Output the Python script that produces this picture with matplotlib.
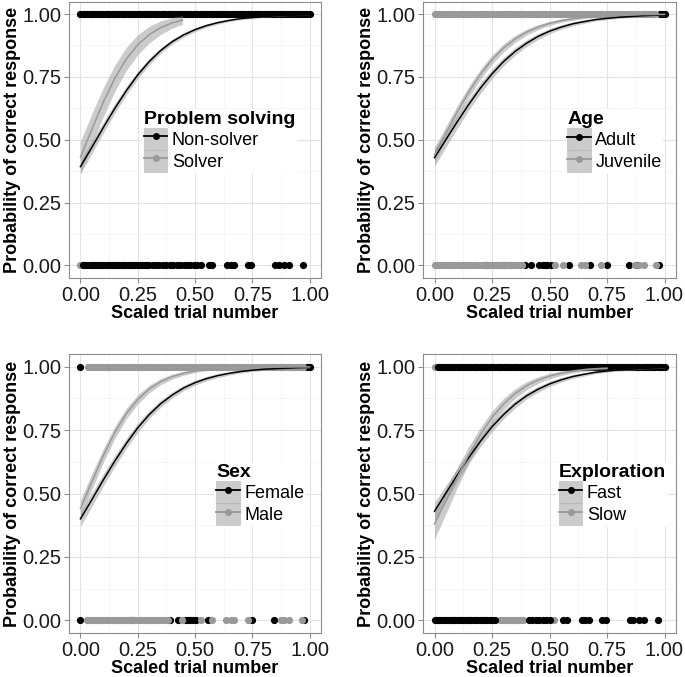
import matplotlib.pyplot as plt
from matplotlib.lines import Line2D
from matplotlib.patches import Patch
from matplotlib.legend_handler import HandlerTuple

plt.rcParams['font.family'] = ['Liberation Sans', 'DejaVu Sans']

x_fit = [0.00, 0.05, 0.10, 0.15, 0.20, 0.25, 0.30, 0.35, 0.40, 0.45, 0.50,
         0.55, 0.60, 0.65, 0.70, 0.75, 0.80, 0.85, 0.90, 0.95, 1.00]
x_solver = [0.00, 0.05, 0.10, 0.15, 0.20, 0.25, 0.30, 0.35, 0.40, 0.445]
x_slow = [0.00, 0.05, 0.10, 0.15, 0.20, 0.25, 0.30, 0.35, 0.40, 0.45, 0.50,
          0.55, 0.60, 0.65, 0.70, 0.75]

# trials with a correct answer, spread over the whole scaled range
all_trials = [0.00, 0.01, 0.02, 0.03, 0.04, 0.05, 0.06, 0.07, 0.08, 0.09,
              0.10, 0.11, 0.12, 0.13, 0.14, 0.15, 0.16, 0.17, 0.18, 0.19,
              0.20, 0.21, 0.22, 0.23, 0.24, 0.25, 0.26, 0.27, 0.28, 0.29,
              0.30, 0.31, 0.32, 0.33, 0.34, 0.35, 0.36, 0.37, 0.38, 0.39,
              0.40, 0.41, 0.42, 0.43, 0.44, 0.45, 0.46, 0.47, 0.48, 0.49,
              0.50, 0.51, 0.52, 0.53, 0.54, 0.55, 0.56, 0.57, 0.58, 0.59,
              0.60, 0.61, 0.62, 0.63, 0.64, 0.65, 0.66, 0.67, 0.68, 0.69,
              0.70, 0.71, 0.72, 0.73, 0.74, 0.75, 0.76, 0.77, 0.78, 0.79,
              0.80, 0.81, 0.82, 0.83, 0.84, 0.85, 0.86, 0.87, 0.88, 0.89,
              0.90, 0.91, 0.92, 0.93, 0.94, 0.95, 0.96, 0.97, 0.98, 0.99, 1.00]

# ---- Problem solving ----
nonsolver_fit = [0.393, 0.470, 0.549, 0.625, 0.695, 0.758, 0.811, 0.855, 0.890, 0.917, 0.938,
                 0.954, 0.966, 0.975, 0.982, 0.986, 0.990, 0.993, 0.995, 0.996, 0.997]
nonsolver_ci = [0.028, 0.025, 0.022, 0.019, 0.017, 0.015, 0.013, 0.011, 0.010, 0.009, 0.008,
                0.007, 0.006, 0.005, 0.004, 0.004, 0.003, 0.003, 0.002, 0.002, 0.002]
solver_fit = [0.430, 0.542, 0.650, 0.745, 0.821, 0.878, 0.918, 0.946, 0.965, 0.976]
solver_ci = [0.065, 0.062, 0.058, 0.052, 0.046, 0.040, 0.033, 0.027, 0.021, 0.017]

nonsolver_top = all_trials
solver_top = [0.00, 0.02, 0.04, 0.06, 0.08, 0.10, 0.12, 0.14, 0.16, 0.18, 0.20, 0.22, 0.24,
              0.26, 0.28, 0.30, 0.32, 0.34, 0.36, 0.38, 0.40, 0.42, 0.44]
nonsolver_bottom = [0.01, 0.02, 0.03, 0.04, 0.05, 0.06, 0.07, 0.08, 0.09, 0.10,
                    0.11, 0.12, 0.13, 0.14, 0.15, 0.16, 0.17, 0.18, 0.19, 0.20,
                    0.21, 0.22, 0.23, 0.24, 0.25, 0.26, 0.27, 0.28, 0.29, 0.30,
                    0.315, 0.33, 0.345, 0.36, 0.375, 0.39, 0.405, 0.42, 0.435, 0.45,
                    0.465, 0.48, 0.495, 0.51, 0.525, 0.56, 0.575, 0.64, 0.655, 0.67,
                    0.73, 0.745, 0.85, 0.865, 0.89, 0.91, 0.97]
solver_bottom = [0.00]

# ---- Age ----
adult_fit = [0.429, 0.501, 0.573, 0.642, 0.706, 0.762, 0.811, 0.851, 0.884, 0.911, 0.932,
             0.948, 0.961, 0.970, 0.978, 0.983, 0.987, 0.990, 0.993, 0.995, 0.996]
adult_ci = [0.035, 0.030, 0.026, 0.023, 0.021, 0.019, 0.017, 0.015, 0.013, 0.012, 0.010,
            0.009, 0.008, 0.007, 0.006, 0.005, 0.004, 0.004, 0.003, 0.003, 0.003]
juvenile_fit = [0.440, 0.527, 0.613, 0.692, 0.761, 0.819, 0.865, 0.901, 0.928, 0.948, 0.963,
                0.974, 0.981, 0.987, 0.991, 0.993, 0.995, 0.997, 0.998, 0.998, 0.999]
juvenile_ci = [0.030, 0.027, 0.024, 0.022, 0.020, 0.018, 0.016, 0.014, 0.012, 0.010, 0.008,
               0.007, 0.006, 0.005, 0.004, 0.003, 0.003, 0.002, 0.002, 0.002, 0.001]

adult_top = [0.98, 0.99, 1.00]
juvenile_top = [0.00, 0.01, 0.02, 0.03, 0.04, 0.05, 0.06, 0.07, 0.08, 0.09,
                0.10, 0.11, 0.12, 0.13, 0.14, 0.15, 0.16, 0.17, 0.18, 0.19,
                0.20, 0.21, 0.22, 0.23, 0.24, 0.25, 0.26, 0.27, 0.28, 0.29,
                0.30, 0.31, 0.32, 0.33, 0.34, 0.35, 0.36, 0.37, 0.38, 0.39,
                0.40, 0.41, 0.42, 0.43, 0.44, 0.45, 0.46, 0.47, 0.48, 0.49,
                0.50, 0.51, 0.52, 0.53, 0.54, 0.55, 0.56, 0.57, 0.58, 0.59,
                0.60, 0.61, 0.62, 0.63, 0.64, 0.65, 0.66, 0.67, 0.68, 0.69,
                0.70, 0.71, 0.72, 0.73, 0.74, 0.75, 0.76, 0.77, 0.78, 0.79,
                0.80, 0.81, 0.82, 0.83, 0.84, 0.85, 0.86, 0.87, 0.88, 0.89,
                0.90, 0.91, 0.92, 0.93, 0.94, 0.95, 0.96]
adult_bottom = [0.23, 0.27, 0.30, 0.33, 0.395, 0.42, 0.455, 0.47, 0.48, 0.49, 0.505, 0.585,
                0.675, 0.75, 0.845, 0.88, 0.975]
juvenile_bottom = [0.00, 0.01, 0.02, 0.03, 0.04, 0.05, 0.06, 0.07, 0.08, 0.09,
                   0.10, 0.11, 0.12, 0.13, 0.14, 0.15, 0.16, 0.17, 0.18, 0.19,
                   0.20, 0.21, 0.22, 0.23, 0.24, 0.25, 0.26, 0.27, 0.28, 0.29,
                   0.30, 0.31, 0.32, 0.33, 0.34, 0.35, 0.36, 0.37, 0.38,
                   0.525, 0.56, 0.635, 0.655, 0.725, 0.87, 0.89, 0.91, 0.965]

# ---- Sex ----
female_fit = [0.400, 0.476, 0.554, 0.628, 0.697, 0.759, 0.811, 0.854, 0.888, 0.916, 0.937,
              0.953, 0.965, 0.974, 0.981, 0.986, 0.990, 0.992, 0.994, 0.996, 0.997]
female_ci = [0.030, 0.027, 0.024, 0.022, 0.020, 0.018, 0.016, 0.014, 0.012, 0.011, 0.010,
             0.009, 0.008, 0.007, 0.006, 0.005, 0.004, 0.004, 0.003, 0.003, 0.003]
male_fit = [0.440, 0.547, 0.650, 0.741, 0.815, 0.871, 0.912, 0.941, 0.961, 0.974, 0.983,
            0.989, 0.993, 0.995, 0.997, 0.998, 0.999, 0.999, 0.999, 0.999, 0.999]
male_ci = [0.035, 0.031, 0.027, 0.024, 0.021, 0.018, 0.015, 0.012, 0.010, 0.008, 0.006,
           0.005, 0.004, 0.003, 0.003, 0.002, 0.002, 0.001, 0.001, 0.001, 0.001]

female_top = [0.00, 0.99, 1.00]
male_top = [0.035, 0.04, 0.05, 0.06, 0.07, 0.08, 0.09,
            0.10, 0.11, 0.12, 0.13, 0.14, 0.15, 0.16, 0.17, 0.18, 0.19,
            0.20, 0.21, 0.22, 0.23, 0.24, 0.25, 0.26, 0.27, 0.28, 0.29,
            0.30, 0.31, 0.32, 0.33, 0.34, 0.35, 0.36, 0.37, 0.38, 0.39,
            0.40, 0.41, 0.42, 0.43, 0.44, 0.45, 0.46, 0.47, 0.48, 0.49,
            0.50, 0.51, 0.52, 0.53, 0.54, 0.55, 0.56, 0.57, 0.58, 0.59,
            0.60, 0.61, 0.62, 0.63, 0.64, 0.65, 0.66, 0.67, 0.68, 0.69,
            0.70, 0.71, 0.72, 0.73, 0.74, 0.75, 0.76, 0.77, 0.78, 0.79,
            0.80, 0.81, 0.82, 0.83, 0.84, 0.85, 0.86, 0.87, 0.88, 0.89,
            0.90, 0.91, 0.92, 0.93, 0.94, 0.95, 0.96, 0.97]
female_bottom = [0.00, 0.22, 0.39, 0.425, 0.46, 0.47, 0.48, 0.49, 0.505, 0.555, 0.75, 0.845,
                 0.975]
male_bottom = [0.03, 0.04, 0.05, 0.06, 0.07, 0.08, 0.09,
               0.10, 0.11, 0.12, 0.13, 0.14, 0.15, 0.16, 0.17, 0.18, 0.19,
               0.20, 0.21, 0.22, 0.23, 0.24, 0.25, 0.26, 0.27, 0.28, 0.29,
               0.30, 0.31, 0.32, 0.33, 0.34, 0.35, 0.36, 0.37, 0.38,
               0.445, 0.525, 0.575, 0.635, 0.655, 0.67, 0.73, 0.875, 0.89, 0.91, 0.965]

# ---- Exploration ----
fast_fit = [0.430, 0.502, 0.574, 0.643, 0.706, 0.763, 0.811, 0.852, 0.885, 0.911, 0.932,
            0.948, 0.961, 0.970, 0.978, 0.983, 0.987, 0.990, 0.993, 0.995, 0.996]
fast_ci = [0.035, 0.030, 0.026, 0.023, 0.021, 0.019, 0.017, 0.015, 0.013, 0.012, 0.010,
           0.009, 0.008, 0.007, 0.006, 0.005, 0.004, 0.004, 0.003, 0.003, 0.003]
slow_fit = [0.380, 0.471, 0.565, 0.654, 0.733, 0.800, 0.853, 0.894, 0.925, 0.947, 0.963,
            0.974, 0.982, 0.988, 0.992, 0.994]
slow_ci = [0.060, 0.050, 0.040, 0.033, 0.028, 0.025, 0.022, 0.019, 0.016, 0.013, 0.011,
           0.009, 0.007, 0.006, 0.005, 0.004]

fast_top = [0.015, 0.02, 0.03, 0.04, 0.05, 0.06, 0.07, 0.08, 0.09,
            0.10, 0.11, 0.12, 0.13, 0.14, 0.15, 0.16, 0.17, 0.18, 0.19,
            0.20, 0.21, 0.22, 0.23, 0.24, 0.25, 0.26, 0.27, 0.28, 0.29,
            0.30, 0.31, 0.32, 0.33, 0.34, 0.35, 0.36, 0.37, 0.38, 0.39,
            0.40, 0.41, 0.42, 0.43, 0.44, 0.45, 0.46, 0.47, 0.48, 0.49,
            0.50, 0.51, 0.52, 0.53, 0.54, 0.55, 0.56, 0.57, 0.58, 0.59,
            0.60, 0.61, 0.62, 0.63, 0.64, 0.65, 0.66, 0.67, 0.68, 0.69,
            0.70, 0.71, 0.72, 0.73, 0.74, 0.75, 0.76, 0.77, 0.78, 0.79,
            0.80, 0.81, 0.82, 0.83, 0.84, 0.85, 0.86, 0.87, 0.88, 0.89,
            0.90, 0.91, 0.92, 0.93, 0.94, 0.95, 0.96, 0.97, 0.98, 0.99, 1.00]
slow_top = [0.00, 0.10, 0.20, 0.30, 0.40, 0.50, 0.60, 0.70, 0.74]
fast_bottom = [0.00, 0.01, 0.02, 0.03, 0.04, 0.05, 0.06, 0.07, 0.08, 0.09,
               0.10, 0.11, 0.12, 0.13, 0.14, 0.15, 0.16, 0.17, 0.18, 0.19,
               0.20, 0.21, 0.22, 0.23, 0.24, 0.25, 0.265,
               0.41, 0.425, 0.44, 0.455, 0.47, 0.485, 0.50, 0.56, 0.575, 0.64, 0.655, 0.67,
               0.73, 0.745, 0.85, 0.865, 0.89, 0.91, 0.97]
slow_bottom = [0.285, 0.295, 0.305, 0.315, 0.325, 0.335, 0.345, 0.355, 0.365, 0.375, 0.385,
               0.52]

ticks = [0.00, 0.25, 0.50, 0.75, 1.00]
BLACK = '#000000'
GREY = '#999999'

fig = plt.figure(figsize=(6.85, 6.77), dpi=100)


def draw_panel(rect, title, names, pts, fits, leg_xy, grey_on_top):
    ax = fig.add_axes(rect)
    cols = [BLACK, GREY]
    order = [0, 1] if grey_on_top else [1, 0]
    for i in order:
        top, bottom = pts[i]
        ax.plot(top, [1] * len(top), 'o', ms=5.2, mec='none', color=cols[i], zorder=2)
        ax.plot(bottom, [0] * len(bottom), 'o', ms=5.2, mec='none', color=cols[i], zorder=2)
    for i in [0, 1]:
        xs, ys, ci = fits[i]
        lo = [y - c for y, c in zip(ys, ci)]
        hi = [min(y + c, 1.0) for y, c in zip(ys, ci)]
        ax.fill_between(xs, lo, hi, color=GREY, alpha=0.5, lw=0, zorder=3)
    for i in [0, 1]:
        xs, ys, ci = fits[i]
        ax.plot(xs, ys, color=cols[i], lw=1.1, zorder=4)

    ax.set_xlim(-0.05, 1.05)
    ax.set_ylim(-0.05, 1.05)
    ax.set_xticks(ticks)
    ax.set_yticks(ticks)
    ax.set_xticklabels(['%.2f' % t for t in ticks])
    ax.set_yticklabels(['%.2f' % t for t in ticks])
    ax.set_xticks([0.125, 0.375, 0.625, 0.875], minor=True)
    ax.set_yticks([0.125, 0.375, 0.625, 0.875], minor=True)
    ax.grid(which='major', color='#e3e3e3', lw=0.8)
    ax.grid(which='minor', color='#f3f3f3', lw=0.5)
    ax.set_axisbelow(True)
    ax.tick_params(which='major', length=3.5, width=0.8, color='#8c8c8c',
                   labelsize=14.5, labelcolor='#1a1a1a', pad=2)
    ax.tick_params(which='minor', length=0)
    for s in ax.spines.values():
        s.set_color('#8c8c8c')
        s.set_linewidth(0.8)
    ax.set_xlabel('Scaled trial number', fontsize=13, fontweight='bold', labelpad=0)
    ax.set_ylabel('Probability of correct response', fontsize=13, fontweight='bold',
                  labelpad=1)

    handles = [(Patch(facecolor=GREY, alpha=0.5, edgecolor='#b5b5b5', lw=0.8),
                Line2D([], [], color=c, lw=1.3, marker='o', ms=4)) for c in cols]
    leg = ax.legend(handles, names, title=title,
                    handler_map={tuple: HandlerTuple(ndivide=1, pad=0)},
                    loc='upper left', bbox_to_anchor=leg_xy, frameon=True,
                    facecolor='white', edgecolor='none', framealpha=1,
                    borderpad=0.1, borderaxespad=0, handlelength=1.3, handleheight=1.5,
                    handletextpad=0.25, labelspacing=0, fontsize=13,
                    title_fontproperties={'weight': 'bold', 'size': 14},
                    alignment='left')
    leg.set_zorder(5)
    return ax


draw_panel([69 / 685, 1 - 278 / 677, 252 / 685, 276.5 / 677], 'Problem solving',
           ['Non-solver', 'Solver'],
           [(nonsolver_top, nonsolver_bottom), (solver_top, solver_bottom)],
           [(x_fit, nonsolver_fit, nonsolver_ci), (x_solver, solver_fit, solver_ci)],
           (0.29, 0.612), grey_on_top=False)
draw_panel([423 / 685, 1 - 278 / 677, 253 / 685, 276.5 / 677], 'Age',
           ['Adult', 'Juvenile'],
           [(adult_top, adult_bottom), (juvenile_top, juvenile_bottom)],
           [(x_fit, adult_fit, adult_ci), (x_fit, juvenile_fit, juvenile_ci)],
           (0.563, 0.61), grey_on_top=True)
draw_panel([69 / 685, 1 - 633 / 677, 252 / 685, 279 / 677], 'Sex',
           ['Female', 'Male'],
           [(female_top, female_bottom), (male_top, male_bottom)],
           [(x_fit, female_fit, female_ci), (x_fit, male_fit, male_ci)],
           (0.577, 0.612), grey_on_top=True)
draw_panel([423 / 685, 1 - 633 / 677, 253 / 685, 279 / 677], 'Exploration',
           ['Fast', 'Slow'],
           [(fast_top, fast_bottom), (slow_top, slow_bottom)],
           [(x_fit, fast_fit, fast_ci), (x_slow, slow_fit, slow_ci)],
           (0.53, 0.612), grey_on_top=False)

fig.savefig('out.png', dpi=100)
